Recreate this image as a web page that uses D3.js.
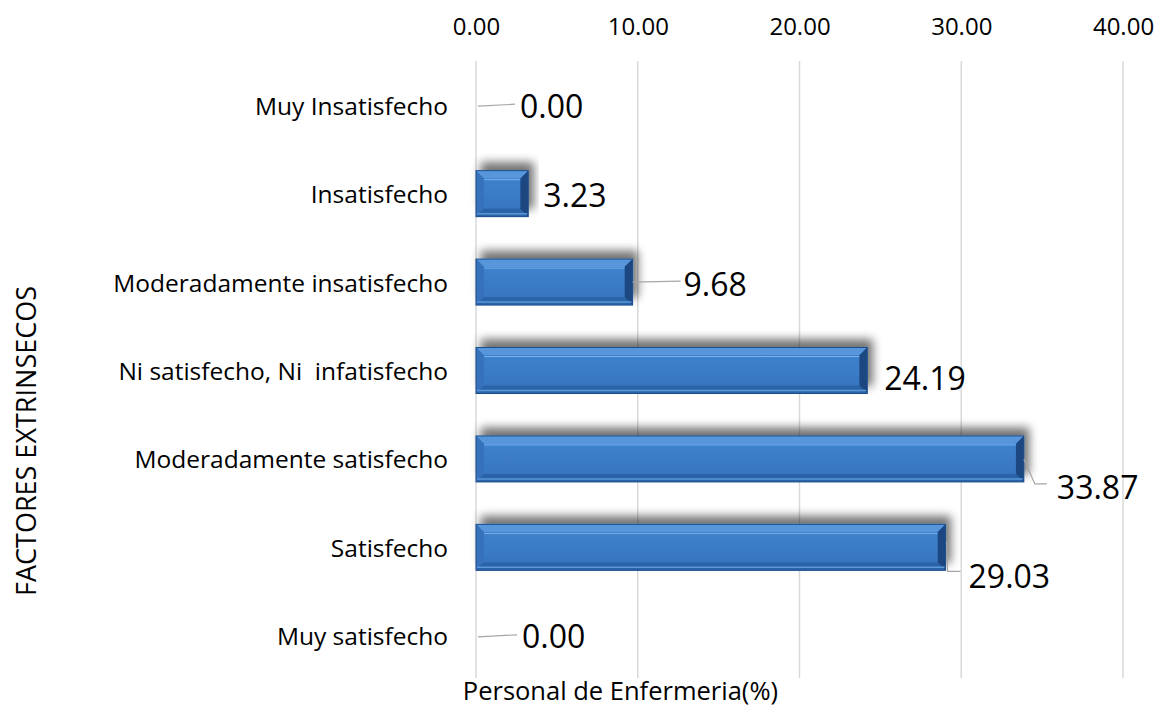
<!DOCTYPE html>
<html>
<head>
<meta charset="utf-8">
<script src="https://cdn.jsdelivr.net/npm/d3@7"></script>
<style>
  body { margin: 0; background: #fff; }
  text { font-family: "Open Sans", "Noto Sans", sans-serif; fill: #000; }
</style>
</head>
<body>
<div class="chart"></div>
<script>
const categories = ["Muy Insatisfecho", "Insatisfecho", "Moderadamente insatisfecho",
  "Ni satisfecho, Ni  infatisfecho", "Moderadamente satisfecho", "Satisfecho", "Muy satisfecho"];
const values = [0.00, 3.23, 9.68, 24.19, 33.87, 29.03, 0.00];
const xTicks = [0, 10, 20, 30, 40];

// label placement per row (dx, dy from bar end / band centre) and leader path
const labelLayout = [
  {dx: 44, dy: 0, leader: [[2, 1], [39, -1]]},
  {dx: 15, dy: 1, leader: null},
  {dx: 51, dy: 1, leader: [[0, 0], [48, -1]]},
  {dx: 17, dy: 7, leader: null},
  {dx: 33, dy: 28, leader: [[0, 0], [11, 25], [23, 25]]},
  {dx: 23, dy: 28, leader: [[1, -6], [2, 24], [15, 24]]},
  {dx: 46, dy: 0, leader: [[2, 1], [41, -1]]}
];

const W = 1157, H = 708;
const margin = {left: 476, top: 61, right: 34, bottom: 28};
const width = W - margin.left - margin.right;
const height = H - margin.top - margin.bottom;

const svg = d3.select('.chart').append('svg')
  .attr('width', W).attr('height', H);

const defs = svg.append('defs');
const f = defs.append('filter').attr('id', 'shadow')
  .attr('x', '-20%').attr('y', '-60%').attr('width', '140%').attr('height', '220%');
f.append('feGaussianBlur').attr('in', 'SourceAlpha').attr('stdDeviation', 5).attr('result', 'b');
f.append('feOffset').attr('in', 'b').attr('dx', 5).attr('dy', -8).attr('result', 'o');
f.append('feComponentTransfer').attr('in', 'o').attr('result', 's')
  .append('feFuncA').attr('type', 'linear').attr('slope', 0.55);
const fm = f.append('feMerge');
fm.append('feMergeNode').attr('in', 's');
fm.append('feMergeNode').attr('in', 'SourceGraphic');

const face = defs.append('linearGradient').attr('id', 'face')
  .attr('x1', 0).attr('y1', 0).attr('x2', 0).attr('y2', 1);
face.append('stop').attr('offset', '0%').attr('stop-color', '#3f82cc');
face.append('stop').attr('offset', '100%').attr('stop-color', '#3776bf');

const g = svg.append('g')
  .attr('transform', `translate(${margin.left},${margin.top})`);

const x = d3.scaleLinear().domain([0, 40]).range([0, width]);
const y = d3.scaleBand().domain(categories).range([0, height]).paddingInner(0.48).paddingOuter(0.24);

// gridlines
g.selectAll('.grid').data(xTicks).enter().append('line')
  .attr('x1', d => x(d)).attr('x2', d => x(d))
  .attr('y1', 0).attr('y2', height - 2)
  .attr('stroke', '#d9d9d9').attr('stroke-width', 1.5);

// top axis
const xAxis = d3.axisTop(x).tickValues(xTicks).tickFormat(d3.format('.2f')).tickSize(0).tickPadding(0);
const ax = g.append('g').attr('transform', 'translate(0,-34)').call(xAxis);
ax.select('.domain').remove();
ax.selectAll('text').attr('font-size', null).style('font-size', '24px').attr('dy', '0.35em').attr('fill', '#000');

// category labels
g.selectAll('.cat').data(categories).enter().append('text')
  .attr('x', -28).attr('y', d => y(d) + y.bandwidth() / 2)
  .attr('text-anchor', 'end').attr('dominant-baseline', 'central')
  .style('white-space', 'pre')
  .style('font-size', '24.5px').text(d => d);

// bars with bevel
const bw = 8;
const bars = g.selectAll('.bar').data(values).enter().append('g')
  .attr('transform', (d, i) => `translate(0,${y(categories[i])})`)
  .filter(d => d > 0)
  .attr('filter', 'url(#shadow)');

bars.each(function(d) {
  const w = x(d), h = y.bandwidth();
  const b = Math.min(bw, w / 2);
  const s = d3.select(this);
  s.append('rect').attr('width', w).attr('height', h).attr('fill', '#2c66ad');
  s.append('polygon').attr('points', `0,0 ${w},0 ${w - b},${b} ${b},${b}`).attr('fill', '#5896dc');
  s.append('polygon').attr('points', `0,0 ${b},${b} ${b},${h - b} 0,${h}`).attr('fill', '#3572bb');
  s.append('polygon').attr('points', `${w},0 ${w},${h} ${w - b},${h - b} ${w - b},${b}`).attr('fill', '#1b4680');
  s.append('polygon').attr('points', `0,${h} ${b},${h - b} ${w - b},${h - b} ${w},${h}`).attr('fill', '#2b63a8');
  s.append('rect').attr('x', b).attr('y', b).attr('width', Math.max(0, w - 2 * b)).attr('height', h - 2 * b)
    .attr('fill', 'url(#face)');
  s.append('line').attr('x1', b).attr('x2', w - b).attr('y1', b + 1).attr('y2', b + 1)
    .attr('stroke', '#78b0ec').attr('stroke-width', 1);
  s.append('line').attr('x1', 1).attr('x2', w - 1).attr('y1', h - 3).attr('y2', h - 3)
    .attr('stroke', '#5b97d8').attr('stroke-width', 1.5);
  s.append('rect').attr('width', w).attr('height', h).attr('fill', 'none')
    .attr('stroke', '#1f4f8c').attr('stroke-width', 1);
});

// leader lines
const line = d3.line();
values.forEach((v, i) => {
  const L = labelLayout[i];
  if (!L.leader) return;
  const bx = x(v), cy = y(categories[i]) + y.bandwidth() / 2;
  g.append('path')
    .attr('d', line(L.leader.map(p => [bx + p[0], cy + p[1]])))
    .attr('fill', 'none').attr('stroke', '#a6a6a6').attr('stroke-width', 1.2);
});

// value labels
g.selectAll('.val').data(values).enter().append('text')
  .attr('x', (d, i) => x(d) + labelLayout[i].dx)
  .attr('y', (d, i) => y(categories[i]) + y.bandwidth() / 2 + labelLayout[i].dy)
  .attr('dominant-baseline', 'central')
  .style('font-size', '32px').text(d => d.toFixed(2));

// axis titles
svg.append('text').attr('x', 778).attr('y', 690)
  .attr('text-anchor', 'end').attr('dominant-baseline', 'central')
  .style('font-size', '25.5px').text('Personal de Enfermeria(%)');

svg.append('text').attr('transform', 'translate(25,441) rotate(-90)')
  .attr('text-anchor', 'middle').attr('dominant-baseline', 'central')
  .style('font-size', '27px').text('FACTORES EXTRINSECOS');
</script>
</body>
</html>
